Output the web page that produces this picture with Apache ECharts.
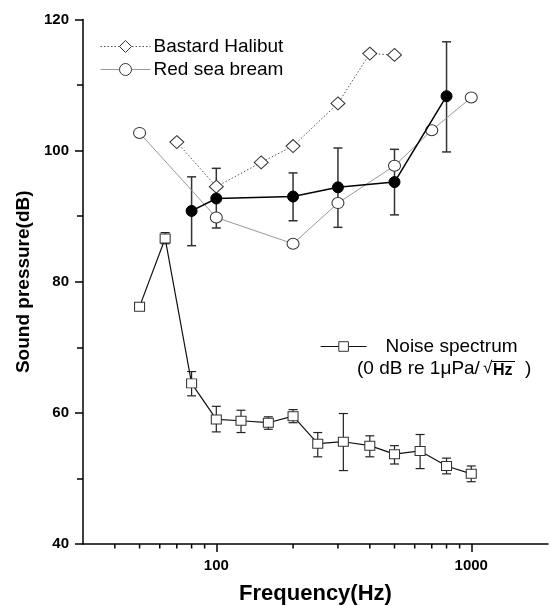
<!DOCTYPE html>
<html>
<head>
<meta charset="utf-8">
<script src="https://cdn.jsdelivr.net/npm/echarts@6/dist/echarts.min.js"></script>
<style>html,body{margin:0;padding:0;background:#fff;}#c{width:550px;height:606px;}</style>
</head>
<body>
<div id="c"></div>
<script>
// Hearing threshold (filled circles, with error bars)
const thrFreq = [80, 100, 200, 300, 500, 800];
const thrDb   = [90.8, 92.7, 93.0, 94.4, 95.2, 108.3];
const thrLow  = [85.5, 88.2, 89.3, 88.3, 90.2, 99.8];
const thrHigh = [96.0, 97.3, 96.6, 100.4, 100.2, 116.6];

// Bastard Halibut (open diamonds, dotted)
const halFreq = [70, 100, 150, 200, 300, 400, 500];
const halDb   = [101.3, 94.5, 98.2, 100.7, 107.2, 114.8, 114.6];

// Red sea bream (open circles, thin grey)
const breamFreq = [50, 100, 200, 300, 500, 700, 1000];
const breamDb   = [102.7, 89.8, 85.8, 92.0, 97.7, 103.1, 108.1];

// Noise spectrum (open squares, with error bars)
const noiseFreq = [50, 63, 80, 100, 125, 160, 200, 250, 315, 400, 500, 630, 800, 1000];
const noiseDb   = [76.2, 86.6, 64.5, 59.0, 58.8, 58.5, 59.5, 55.3, 55.6, 55.0, 53.7, 54.2, 51.9, 50.7];
const noiseLow  = [75.8, 85.8, 62.6, 57.1, 57.0, 57.5, 58.5, 53.3, 51.2, 53.3, 52.2, 51.5, 50.7, 49.5];
const noiseHigh = [76.6, 87.5, 66.3, 61.0, 60.4, 59.4, 60.5, 57.0, 59.9, 56.5, 55.0, 56.7, 53.1, 51.9];

// Axis settings
const xMin = 30, xMax = 2000;
const yMin = 40, yMax = 120, yStep = 20;
const xMinorTicks = [40, 50, 60, 70, 80, 90, 200, 300, 400, 500, 600, 700, 800, 900];

const FONT = "'Liberation Sans', Arial, sans-serif";

const pairs = (xs, ys) => xs.map((x, i) => [x, ys[i]]);
const errData = (xs, lo, hi) => xs.map((x, i) => [x, lo[i], hi[i]]);

function errorBarRender(capHalf, color, width) {
  return function (params, api) {
    const x = api.value(0);
    const top = api.coord([x, api.value(2)]);
    const bot = api.coord([x, api.value(1)]);
    const st = { stroke: color, lineWidth: width };
    return {
      type: 'group',
      children: [
        { type: 'line', shape: { x1: top[0], y1: top[1], x2: bot[0], y2: bot[1] }, style: st },
        { type: 'line', shape: { x1: top[0] - capHalf, y1: top[1], x2: top[0] + capHalf, y2: top[1] }, style: st },
        { type: 'line', shape: { x1: bot[0] - capHalf, y1: bot[1], x2: bot[0] + capHalf, y2: bot[1] }, style: st }
      ]
    };
  };
}

const chart = echarts.init(document.getElementById('c'), null, { renderer: 'canvas' });

chart.setOption({
  animation: false,
  backgroundColor: '#fff',
  grid: { left: 83, right: 2, top: 19.5, bottom: 62, containLabel: false, outerBoundsMode: 'none' },
  legend: [
    {
      data: ['Bastard Halibut', 'Red sea bream'],
      orient: 'vertical', left: 100, top: 37, padding: 0,
      itemWidth: 50, itemHeight: 15, itemGap: 4,
      itemStyle: { borderWidth: 1 },
      lineStyle: { width: 1 },
      textStyle: { fontFamily: FONT, fontSize: 19, color: '#000', padding: [0, 0, 0, -2] }
    },
    {
      data: ['Noise spectrum'],
      orient: 'vertical', left: 320, top: 337, padding: 0,
      itemWidth: 46, itemHeight: 12, itemGap: 10,
      itemStyle: { borderWidth: 1 },
      lineStyle: { width: 1.2 },
      textStyle: { fontFamily: FONT, fontSize: 19, color: '#000', padding: [0, 0, 0, 14] }
    }
  ],
  xAxis: {
    type: 'log', logBase: 10, min: xMin, max: xMax,
    name: 'Frequency(Hz)', nameLocation: 'middle', nameGap: 39,
    nameTextStyle: { fontFamily: FONT, fontSize: 22, fontWeight: 'bold', color: '#000' },
    axisLine: { lineStyle: { color: '#000', width: 1.5 } },
    axisTick: { show: true, inside: false, length: 8, lineStyle: { color: '#000', width: 1.5 } },
    axisLabel: {
      showMinLabel: false, showMaxLabel: false, margin: 14,
      formatter: v => String(Math.round(v)),
      fontFamily: FONT, fontSize: 15, fontWeight: 'bold', color: '#000'
    },
    splitLine: { show: false }
  },
  yAxis: {
    type: 'value', min: yMin, max: yMax, interval: yStep,
    name: 'Sound pressure(dB)', nameLocation: 'middle', nameGap: 50, nameRotate: 90,
    nameTextStyle: { fontFamily: FONT, fontSize: 19, fontWeight: 'bold', color: '#000' },
    axisLine: { show: true, lineStyle: { color: '#000', width: 1.5 } },
    axisTick: { show: true, inside: false, length: 8, lineStyle: { color: '#000', width: 1.5 } },
    minorTick: { show: true, splitNumber: 2, length: 6, lineStyle: { color: '#000', width: 1.5 } },
    axisLabel: { margin: 14, fontFamily: FONT, fontSize: 15, fontWeight: 'bold', color: '#000' },
    splitLine: { show: false }
  },
  series: [
    {
      name: 'xMinorTicks', type: 'custom', silent: true, clip: false, z: 1,
      data: xMinorTicks.map(v => [v]),
      encode: { x: 0 },
      renderItem: function (params, api) {
        const p = api.coord([api.value(0), yMin]);
        return { type: 'line', shape: { x1: p[0], y1: p[1], x2: p[0], y2: p[1] + 4.5 }, style: { stroke: '#000', lineWidth: 1.5 } };
      }
    },
    {
      name: 'thrErr', type: 'custom', silent: true, z: 2,
      data: errData(thrFreq, thrLow, thrHigh),
      encode: { x: 0, y: [1, 2] },
      renderItem: errorBarRender(4.5, '#333', 1.5)
    },
    {
      name: 'noiseErr', type: 'custom', silent: true, z: 2,
      data: errData(noiseFreq, noiseLow, noiseHigh),
      encode: { x: 0, y: [1, 2] },
      renderItem: errorBarRender(4.5, '#222', 1.2)
    },
    {
      name: 'Bastard Halibut', type: 'line', z: 4,
      data: pairs(halFreq, halDb),
      symbol: 'diamond', symbolSize: [14, 13],
      lineStyle: { color: '#555', width: 1, type: [1.5, 2] },
      itemStyle: { color: '#fff', borderColor: '#333', borderWidth: 1 }
    },
    {
      name: 'Red sea bream', type: 'line', z: 4,
      data: pairs(breamFreq, breamDb),
      symbol: 'circle', symbolSize: [12, 11],
      lineStyle: { color: '#999', width: 1 },
      itemStyle: { color: '#fff', borderColor: '#333', borderWidth: 1 }
    },
    {
      name: 'Threshold', type: 'line', z: 5,
      data: pairs(thrFreq, thrDb),
      symbol: 'circle', symbolSize: 11,
      lineStyle: { color: '#000', width: 1.5 },
      itemStyle: { color: '#000', borderColor: '#000', borderWidth: 1 }
    },
    {
      name: 'Noise spectrum', type: 'line', z: 5,
      data: pairs(noiseFreq, noiseDb),
      symbol: 'rect', symbolSize: [10, 9],
      lineStyle: { color: '#111', width: 1.2 },
      itemStyle: { color: '#fff', borderColor: '#333', borderWidth: 1 }
    }
  ],
  graphic: [
    {
      type: 'group', left: 357, top: 359,
      children: [
        { type: 'text', x: 0, y: 0, style: { text: '(0 dB re 1\u03bcPa/', font: "19px " + FONT, fill: '#000' } },
        { type: 'text', x: 126, y: 1, style: { text: '\u221a', font: "17px " + FONT, fill: '#000' } },
        { type: 'text', x: 136, y: 4, style: { text: 'Hz', font: "bold 16px " + FONT, fill: '#000' } },
        { type: 'line', shape: { x1: 135, y1: 2.5, x2: 158, y2: 2.5 }, style: { stroke: '#000', lineWidth: 1 } },
        { type: 'text', x: 168, y: 0, style: { text: ')', font: "19px " + FONT, fill: '#000' } }
      ]
    }
  ]
});
</script>
</body>
</html>
